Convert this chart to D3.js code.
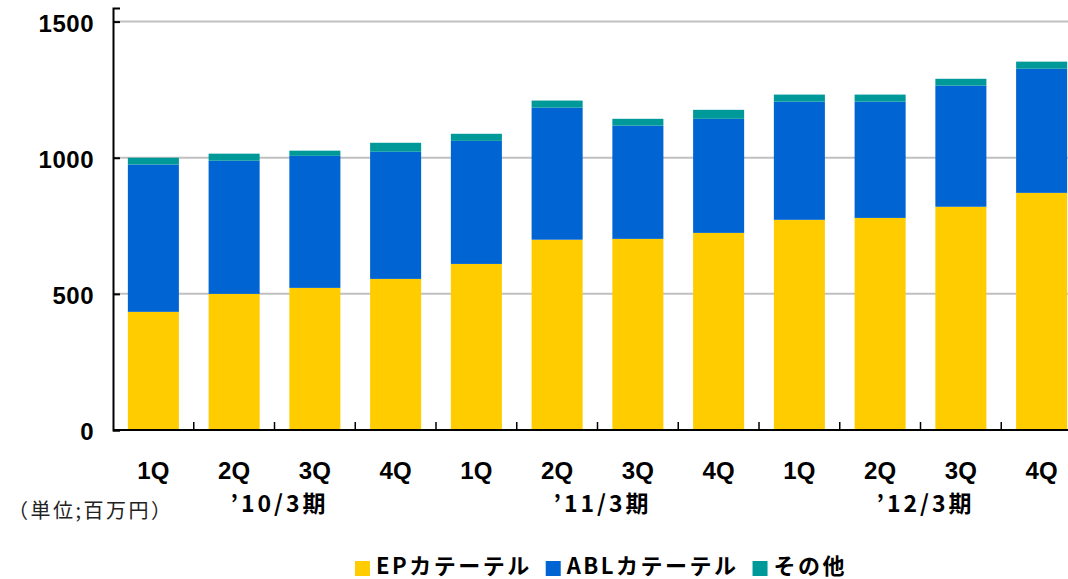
<!DOCTYPE html>
<html>
<head>
<meta charset="utf-8">
<script src="https://cdn.jsdelivr.net/npm/d3@7"></script>
<style>
  body { margin: 0; background: #fff; }
  svg { display: block; font-family: "Liberation Sans", "Noto Sans CJK JP", sans-serif; }
  .tick-label { font-size: 24px; font-weight: bold; fill: #000; }
  .jp { font-family: "Noto Sans CJK JP", sans-serif; }
</style>
</head>
<body>
<div id="chart"></div>
<script>
  // quarters, three fiscal years
  const quarters = ["1Q", "2Q", "3Q", "4Q", "1Q", "2Q", "3Q", "4Q", "1Q", "2Q", "3Q", "4Q"];
  const periods = ["’10/3期", "’11/3期", "’12/3期"];
  const yTicks = [0, 500, 1000, 1500];

  // values in 百万円
  const epValues = [434, 500, 522, 555, 610, 699, 702, 724, 772, 779, 820, 871];
  const ablValues = [541, 489, 485, 467, 452, 485, 416, 419, 434, 427, 445, 456];
  const otherValues = [25, 26, 19, 33, 26, 26, 25, 33, 26, 26, 25, 26];

  const seriesNames = ["EPカテーテル", "ABLカテーテル", "その他"];
  const colors = ["#ffcc00", "#0064d2", "#009999"];

  const W = 1068, H = 579;
  const plotLeft = 113, plotRight = 1082, plotTop = 8, plotBottom = 430;

  const keys = quarters.map((q, i) => i);
  const rows = keys.map(i => ({ i, ep: epValues[i], abl: ablValues[i], other: otherValues[i] }));
  const stack = d3.stack().keys(["ep", "abl", "other"])(rows);

  const svg = d3.select("#chart").append("svg")
      .attr("width", W).attr("height", H);

  const x = d3.scaleBand()
      .domain(keys)
      .range([plotLeft, plotRight])
      .paddingInner(0.368)
      .paddingOuter(0.184);

  const y = d3.scaleLinear()
      .domain([0, 1550])
      .range([plotBottom, plotTop]);

  // gridlines
  svg.append("g")
      .selectAll("line")
      .data(yTicks.filter(d => d > 0))
      .join("line")
      .attr("x1", plotLeft).attr("x2", W)
      .attr("y1", d => y(d)).attr("y2", d => y(d))
      .attr("stroke", "#c0c0c0")
      .attr("stroke-width", 2);

  // bars
  svg.append("g")
      .selectAll("g")
      .data(stack)
      .join("g")
      .attr("fill", (d, i) => colors[i])
      .selectAll("rect")
      .data(d => d)
      .join("rect")
      .attr("x", d => x(d.data.i))
      .attr("width", x.bandwidth())
      .attr("y", d => y(d[1]))
      .attr("height", d => y(d[0]) - y(d[1]));

  // y axis
  const yAxis = svg.append("g")
      .attr("transform", `translate(${plotLeft},0)`)
      .call(d3.axisRight(y).tickValues(yTicks).tickSize(7).tickFormat(""));
  yAxis.select(".domain").attr("stroke", "#000").attr("stroke-width", 2);
  yAxis.selectAll(".tick line").attr("stroke", "#000").attr("stroke-width", 2);

  svg.append("g")
      .selectAll("text")
      .data(yTicks)
      .join("text")
      .attr("class", "tick-label")
      .attr("x", 94)
      .attr("y", d => y(d) + 10)
      .attr("text-anchor", "end")
      .style("letter-spacing", "0.5px")
      .text(d => d);

  // x axis with ticks between bands
  const bounds = keys.slice(1).map(i => x(i) - x.step() * x.paddingInner() / 2);
  svg.append("line")
      .attr("x1", plotLeft).attr("x2", plotRight)
      .attr("y1", plotBottom).attr("y2", plotBottom)
      .attr("stroke", "#000").attr("stroke-width", 2);
  svg.append("g")
      .selectAll("line")
      .data(bounds)
      .join("line")
      .attr("x1", d => d).attr("x2", d => d)
      .attr("y1", plotBottom).attr("y2", plotBottom - 8)
      .attr("stroke", "#000").attr("stroke-width", 1.5);

  svg.append("g")
      .selectAll("text")
      .data(keys)
      .join("text")
      .attr("class", "tick-label")
      .attr("x", d => x(d) + x.bandwidth() / 2)
      .attr("y", 479)
      .attr("text-anchor", "middle")
      .text(d => quarters[d]);

  // fiscal period labels, centred between 2Q and 3Q of each year
  svg.append("g")
      .selectAll("text")
      .data(periods)
      .join("text")
      .attr("class", "tick-label jp")
      .style("font-size", "23px")
      .style("letter-spacing", "3px")
      .attr("x", (d, i) => (x(i * 4 + 1) + x(i * 4 + 2) + x.bandwidth()) / 2 + 5)
      .attr("y", 512)
      .attr("text-anchor", "middle")
      .text(d => d);

  svg.append("text")
      .attr("class", "jp")
      .attr("x", 8)
      .attr("y", 518)
      .style("font-size", "20px")
      .style("letter-spacing", "2.5px")
      .attr("fill", "#222")
      .text("（単位;百万円）");

  // legend
  const legend = svg.append("g").attr("transform", "translate(355,0)");
  let lx = 0;
  seriesNames.forEach((name, i) => {
    legend.append("rect")
        .attr("x", lx).attr("y", 561)
        .attr("width", 15).attr("height", 15)
        .attr("fill", colors[i]);
    const t = legend.append("text")
        .attr("class", "jp")
        .attr("x", lx + 21).attr("y", 574)
        .style("font-size", "22px")
        .style("font-weight", "bold")
        .style("letter-spacing", "2.5px")
        .text(name);
    lx += 21 + t.node().getComputedTextLength() + 14;
  });
</script>
</body>
</html>
